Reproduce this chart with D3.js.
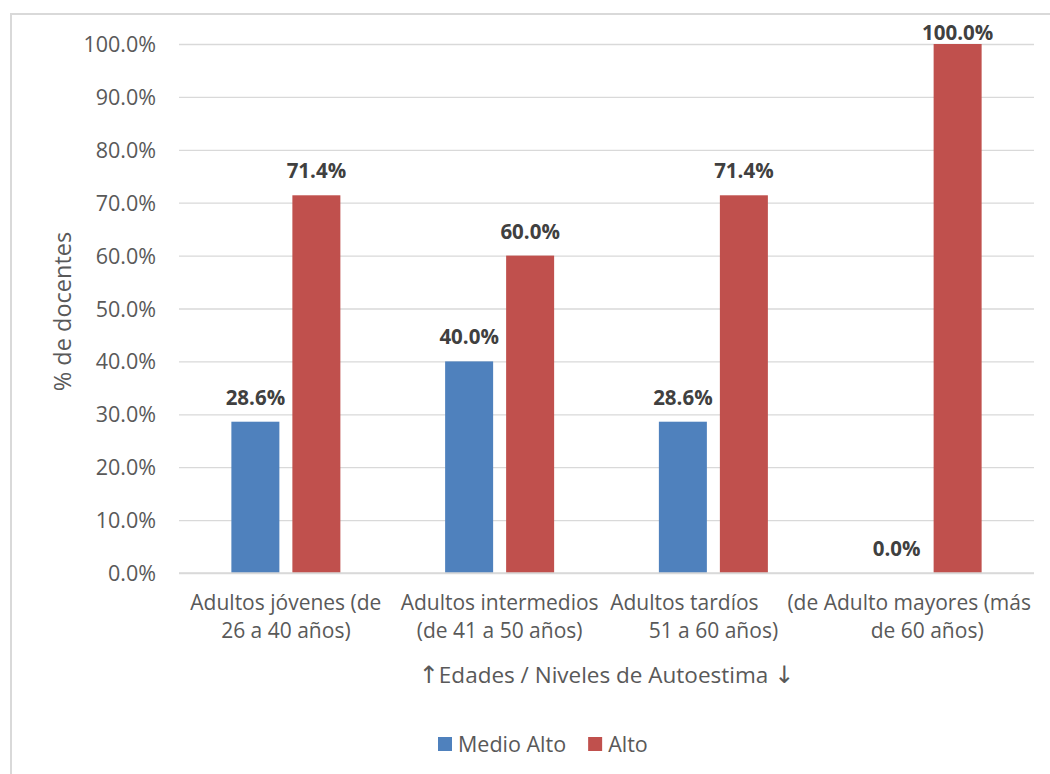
<!DOCTYPE html>
<html>
<head>
<meta charset="utf-8">
<script src="https://cdn.jsdelivr.net/npm/d3@7"></script>
<style>
  html, body { margin: 0; padding: 0; background: #fff; }
  svg { display: block; font-family: "Open Sans", "Liberation Sans", sans-serif; }
</style>
</head>
<body>
<svg id="chart" width="1050" height="774"></svg>
<script>
const categories = [
  "Adultos jóvenes (de 26 a 40 años)",
  "Adultos intermedios (de 41 a 50 años)",
  "Adultos tardíos (de 51 a 60 años)",
  "Adulto mayores (más de 60 años)"
];
const categoryLines = [
  ["Adultos jóvenes (de", "26 a 40 años)"],
  ["Adultos intermedios", "(de 41 a 50 años)"],
  ["Adultos tardíos", "51 a 60 años)"],
  ["(de Adulto mayores (más", "de 60 años)"]
];
const seriesNames = ["Medio Alto", "Alto"];
const medioAlto = [0.286, 0.400, 0.286, 0.000];
const alto = [0.714, 0.600, 0.714, 1.000];
const seriesColors = ["#4F81BD", "#C0504D"];
const yTicks = [0, 0.1, 0.2, 0.3, 0.4, 0.5, 0.6, 0.7, 0.8, 0.9, 1.0];
const yTitle = "% de docentes";
const xTitleParts = ["↑", "Edades / Niveles de Autoestima ", "↓"];

const svg = d3.select("#chart");
const W = 1050, H = 774;
const plot = { left: 179, right: 1034, top: 44, bottom: 573 };

// outer border
svg.append("rect").attr("x", 11).attr("y", 14).attr("width", W + 10).attr("height", H + 10)
  .attr("fill", "#fff").attr("stroke", "#d9d9d9").attr("stroke-width", 2);

const x = d3.scaleBand().domain(categories).range([plot.left, plot.right]).padding(0);
const bw = x.bandwidth();
const xSub = d3.scaleBand().domain(seriesNames)
  .range([bw / 2 - 54.5, bw / 2 + 54.5]).paddingInner(13 / 61).paddingOuter(0);
const y = d3.scaleLinear().domain([0, 1]).range([plot.bottom, plot.top]);

// gridlines via axis
const grid = svg.append("g").attr("transform", `translate(${plot.left},0)`)
  .call(d3.axisLeft(y).tickValues(yTicks).tickSize(-(plot.right - plot.left)).tickFormat(""));
grid.select(".domain").remove();
grid.selectAll(".tick line").attr("stroke", "#d9d9d9").attr("stroke-width", 1.3);

// y tick labels
const yAxis = svg.append("g").attr("transform", `translate(156,0)`)
  .call(d3.axisLeft(y).tickValues(yTicks).tickSize(0).tickPadding(0).tickFormat(d3.format(".1%")));
yAxis.select(".domain").remove();
yAxis.selectAll("text").attr("fill", "#595959").style("font-size", "21.5px")
  .style("font-family", '"Open Sans", "Liberation Sans", sans-serif').attr("dy", "0.35em");

const data = categories.map((c, i) => ({ cat: c, values: [medioAlto[i], alto[i]] }));

const groups = svg.append("g").selectAll("g").data(data).join("g")
  .attr("transform", d => `translate(${x(d.cat)},0)`);

groups.selectAll("rect").data(d => d.values.map((v, j) => ({ s: seriesNames[j], v, j })))
  .join("rect")
  .attr("x", d => xSub(d.s)).attr("width", xSub.bandwidth())
  .attr("y", d => y(d.v)).attr("height", d => y(0) - y(d.v))
  .attr("fill", d => seriesColors[d.j]);

groups.selectAll("text.lbl").data(d => d.values.map((v, j) => ({ s: seriesNames[j], v, j })))
  .join("text").attr("class", "lbl")
  .attr("x", d => xSub(d.s) + xSub.bandwidth() / 2)
  .attr("y", d => Math.max(y(d.v) - 17, y(1) - 4))
  .attr("text-anchor", "middle")
  .attr("fill", "#404040").style("font-size", "20.5px").style("font-weight", "bold")
  .text(d => d3.format(".1%")(d.v));

// baseline axis line
svg.append("line").attr("x1", plot.left).attr("x2", plot.right)
  .attr("y1", y(0)).attr("y2", y(0)).attr("stroke", "#d9d9d9").attr("stroke-width", 1.5);

// category labels
const lineDx = [[0, 0], [0, 0], [-29, 0], [0, 0]];
categories.forEach((c, i) => {
  const cx = x(c) + bw / 2;
  categoryLines[i].forEach((ln, k) => {
    const t = svg.append("text")
      .attr("x", cx + lineDx[i][k]).attr("y", 610 + k * 28)
      .attr("text-anchor", "middle").attr("fill", "#595959").style("font-size", "21px")
      .text(ln);
    const bb = t.node().getBBox();
    if (bb.x + bb.width > plot.right - 3) {
      t.attr("x", cx - (bb.x + bb.width - (plot.right - 3)));
    }
  });
});

// axis titles
const xt = svg.append("text").attr("x", (plot.left + plot.right) / 2).attr("y", 683)
  .attr("text-anchor", "middle").attr("fill", "#595959").style("font-size", "22.5px");
xTitleParts.forEach((p, i) => {
  const ts = xt.append("tspan").text(p);
  if (i !== 1) ts.style("font-family", '"DejaVu Sans", sans-serif').style("font-size", "24px");
});
svg.append("text").attr("transform", `translate(71,${(plot.top + plot.bottom) / 2 + 3}) rotate(-90)`)
  .attr("text-anchor", "middle").attr("fill", "#595959").style("font-size", "23.5px").text(yTitle);

// legend
const legend = svg.append("g");
let lx = 438;
seriesNames.forEach((s, i) => {
  legend.append("rect").attr("x", lx).attr("y", 737).attr("width", 14).attr("height", 14)
    .attr("fill", seriesColors[i]);
  const t = legend.append("text").attr("x", lx + 20).attr("y", 751.5)
    .attr("fill", "#595959").style("font-size", "21.5px").text(s);
  lx += 20 + t.node().getComputedTextLength() + 22;
});
</script>
</body>
</html>
